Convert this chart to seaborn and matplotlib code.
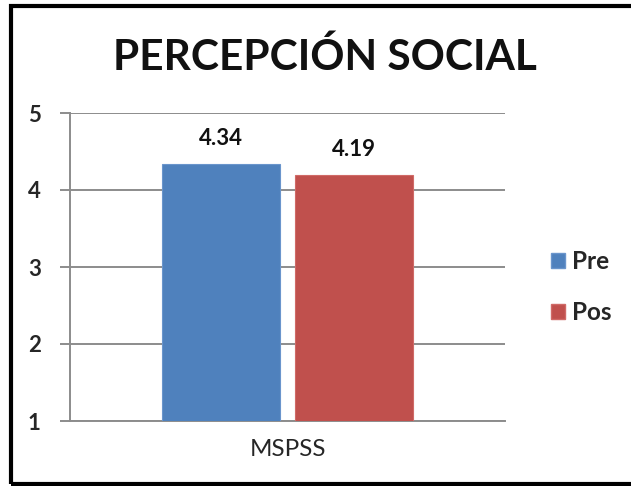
import matplotlib
matplotlib.use("Agg")
import matplotlib.pyplot as plt
import matplotlib.patches as mpatches
import pandas as pd
import seaborn as sns

# Chart data
escalas = ["MSPSS"]
momentos = ["Pre", "Pos"]
valores = [4.34, 4.19]
colores = ["#4F81BD", "#C0504D"]
bordes = ["#6A95CC", "#D06A67"]
y_ticks = [1, 2, 3, 4, 5]
titulo = "PERCEPCIÓN SOCIAL"

df = pd.DataFrame({
    "escala": escalas * len(momentos),
    "momento": momentos,
    "valor": valores,
})

sns.set_theme(style="white")
plt.rcParams["font.family"] = ["Lato", "DejaVu Sans"]

fig = plt.figure(figsize=(6.31, 4.86), dpi=100)
fig.patch.set_facecolor("white")
ax = fig.add_axes([70 / 631, 1 - 421 / 486, 435 / 631, 308 / 486])

sns.barplot(data=df, x="escala", y="valor", hue="momento",
            palette=colores, width=0.612, gap=0.114, ax=ax,
            legend=False, saturation=1, zorder=3)

for cont, ec in zip(ax.containers, bordes):
    for bar in cont:
        bar.set_edgecolor(ec)
        bar.set_linewidth(0.8)
    ax.bar_label(cont, fmt="%.2f", padding=11, fontsize=16,
                 fontweight="bold", color="#111111")

ax.set_xlim(-0.5, 0.5)
ax.set_ylim(1, 5)
ax.set_yticks(y_ticks)
ax.set_yticklabels([str(t) for t in y_ticks], fontsize=16, fontweight="bold")
ax.yaxis.grid(True, color="#8c8c8c", linewidth=1.4, zorder=0)
ax.set_axisbelow(True)

# category boundary ticks on the x axis
ax.set_xticks([-0.5, 0.5], minor=True)
ax.set_xticks([0])
ax.set_xticklabels(escalas, fontsize=17.5)
ax.tick_params(axis="x", which="major", length=0, pad=13)
ax.tick_params(axis="x", which="minor", length=7, width=1.4, color="#8c8c8c",
               direction="out")
ax.tick_params(axis="y", length=7, width=1.4, color="#8c8c8c",
               direction="out", pad=14, left=True)
ax.set_xlabel("")
ax.set_ylabel("")

for side in ["top", "right"]:
    ax.spines[side].set_visible(False)
for side in ["left", "bottom"]:
    ax.spines[side].set_color("#8c8c8c")
    ax.spines[side].set_linewidth(1.4)

fig.text(325 / 631, 1 - 57 / 486, titulo, ha="center", va="center",
         fontsize=30.5, fontweight="bold", color="#111111")

handles = [mpatches.Patch(facecolor=c, edgecolor=e, label=m)
           for c, e, m in zip(colores, bordes, momentos)]
fig.legend(handles=handles, loc="center left",
           bbox_to_anchor=(529 / 631, 1 - 287 / 486), frameon=False,
           prop={"size": 17.5, "weight": "bold"}, handlelength=0.6,
           handleheight=0.6, handletextpad=0.25, labelspacing=1.15)

# outer frame
fig.add_artist(mpatches.Rectangle((11 / 631, 2 / 486), 700 / 631, 478 / 486,
                                  transform=fig.transFigure, fill=False,
                                  edgecolor="black", linewidth=3))

fig.savefig("out.png", dpi=100, facecolor="white")
